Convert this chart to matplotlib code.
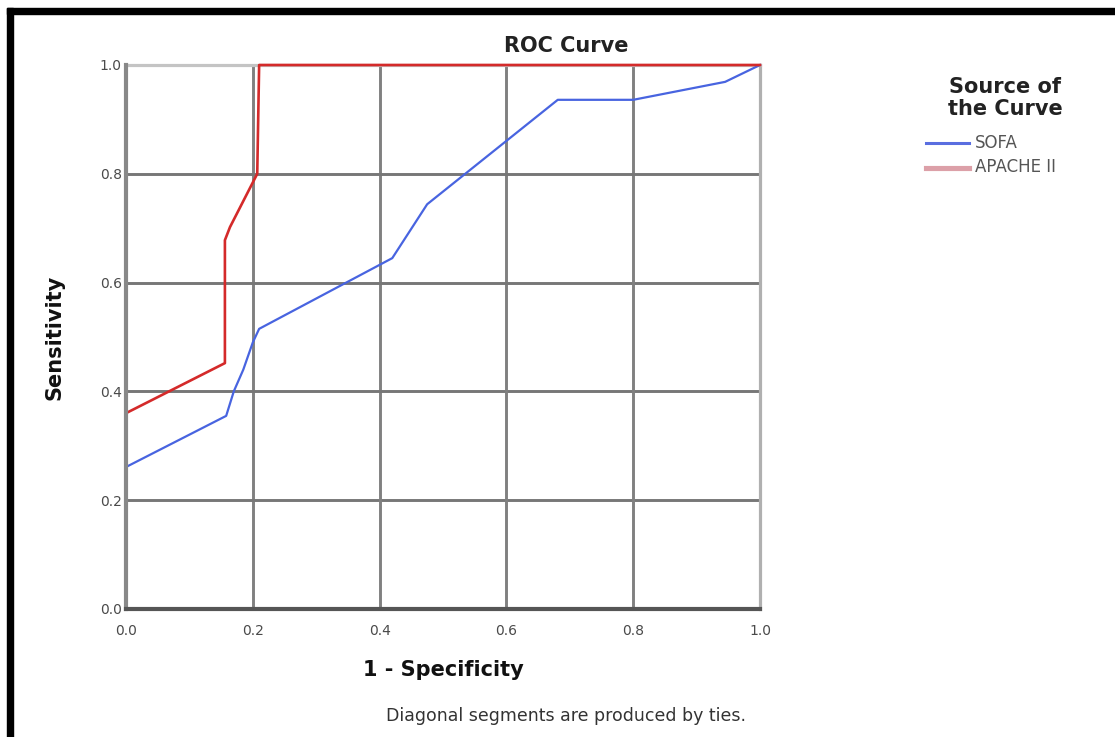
import matplotlib.pyplot as plt
from matplotlib.lines import Line2D
from matplotlib.patches import Rectangle

plt.rcParams['font.family'] = ['DejaVu Sans']

# Curvas ROC
sofa_fpr = [0.0, 0.0, 0.158, 0.17, 0.185, 0.20, 0.21, 0.42, 0.475, 0.681, 0.80, 0.945, 1.0]
sofa_tpr = [0.0, 0.261, 0.355, 0.40, 0.44, 0.49, 0.515, 0.645, 0.744, 0.936, 0.936, 0.969, 1.0]

apache_fpr = [0.0, 0.0, 0.156, 0.156, 0.164, 0.207, 0.21, 1.0]
apache_tpr = [0.0, 0.36, 0.452, 0.678, 0.702, 0.80, 1.0, 1.0]

ticks = [0.0, 0.2, 0.4, 0.6, 0.8, 1.0]
tick_labels = ['0.0', '0.2', '0.4', '0.6', '0.8', '1.0']
series_names = ['SOFA', 'APACHE II']

fig = plt.figure(figsize=(11.15, 7.37), dpi=100)

# Marco negro arriba y a la izquierda
fig.patches.append(Rectangle((7 / 1115, 0), 6 / 1115, 1 - 8 / 737, transform=fig.transFigure,
                             color='black', zorder=0))
fig.patches.append(Rectangle((7 / 1115, 1 - 14 / 737), 1 - 7 / 1115, 6 / 737, transform=fig.transFigure,
                             color='black', zorder=0))

ax = fig.add_axes([126 / 1115, 1 - 609 / 737, 634 / 1115, 544 / 737])

# Rejilla
for t in ticks[1:-1]:
    ax.axvline(t, color='#808080', lw=2.1, zorder=1)
    ax.axhline(t, color='#777777', lw=2.1, zorder=1)
ax.axvline(1.0, color='#b0b0b0', lw=2.3, zorder=1, clip_on=False)
ax.axhline(1.0, color='#c4c4c4', lw=2.3, zorder=1, clip_on=False)

ax.plot(sofa_fpr, sofa_tpr, color='#4864e0', lw=1.6, zorder=3, clip_on=False)
ax.plot(apache_fpr, apache_tpr, color='#d42a2a', lw=1.9, zorder=4, clip_on=False)

ax.set_xlim(0, 1)
ax.set_ylim(0, 1)
ax.set_xticks(ticks)
ax.set_yticks(ticks)
ax.set_xticklabels(tick_labels)
ax.set_yticklabels(tick_labels)
ax.tick_params(length=0, labelsize=10, colors='#4a4a4a')
ax.tick_params(axis='x', pad=11)
ax.tick_params(axis='y', pad=3)

for side in ['top', 'right']:
    ax.spines[side].set_visible(False)
ax.spines['left'].set_color('#888888')
ax.spines['left'].set_linewidth(3)
ax.spines['bottom'].set_color('#555555')
ax.spines['bottom'].set_linewidth(3)
for side in ['left', 'bottom']:
    ax.spines[side].set_zorder(5)

fig.text(566 / 1115, 1 - 46 / 737, 'ROC Curve', ha='center', va='center',
         fontsize=15, fontweight='bold', color='#222222')
fig.text(443 / 1115, 1 - 670 / 737, '1 - Specificity', ha='center', va='center',
         fontsize=15, fontweight='bold', color='#111111')
fig.text(55 / 1115, 1 - 337 / 737, 'Sensitivity', ha='center', va='center', rotation=90,
         fontsize=15, fontweight='bold', color='#111111')
fig.text(566 / 1115, 1 - 716 / 737, 'Diagonal segments are produced by ties.', ha='center',
         va='center', fontsize=12.5, color='#333333')

# Leyenda
fig.text(1005 / 1115, 1 - 98 / 737, 'Source of\nthe Curve', ha='center', va='center',
         fontsize=15, fontweight='bold', color='#222222', linespacing=1.1)
legend_colors = ['#5a6ee0', '#dca0a8']
for i, (name, col) in enumerate(zip(series_names, legend_colors)):
    y = 1 - (143 + 24.5 * i) / 737
    fig.add_artist(Line2D([926 / 1115, 969 / 1115], [y, y], color=col, lw=2.2 + 1.5 * i,
                          transform=fig.transFigure))
    fig.text(975 / 1115, y, name, ha='left', va='center', fontsize=12, color='#555555')

fig.savefig('out.png', dpi=100)
